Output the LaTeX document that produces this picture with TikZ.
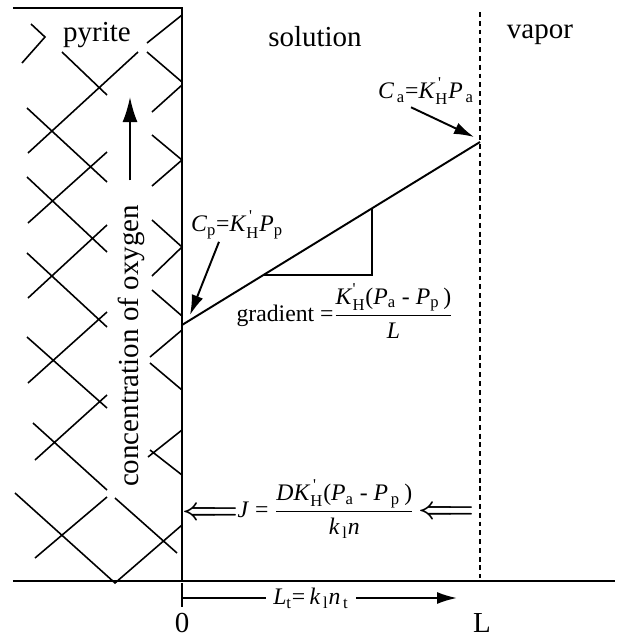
\documentclass[tikz,border=0pt]{standalone}
\usepackage{amsmath}
\usepackage[no-math]{fontspec}
\setmainfont{Liberation Serif}
\usetikzlibrary{arrows.meta,calc}

\newcommand{\ivar}[1]{\text{\textit{#1}}}
\newcommand{\rsub}[1]{\text{\normalfont #1}}
\newcommand{\tick}{\text{\normalfont\textquotesingle}}
\newcommand{\eqsize}{\fontsize{13.5}{16}\selectfont}

\begin{document}
\begin{tikzpicture}[x=0.02cm, y=-0.02cm, line width=1.1pt,
    font=\fontsize{16.5}{20}\selectfont,
    formula/.style={font=\eqsize, inner sep=1pt},
    inflow/.style={inner sep=0pt, font=\fontsize{16.5}{20}\selectfont\boldmath},
    hatch/.style={line width=0.9pt},
    pointer/.style={-{Latex[length=0.4cm,width=0.24cm]}}]
    \useasboundingbox (0,0) rectangle (628,637);

    % pyrite block, base line and vapor boundary
    \draw (13,8) -- (182,8) -- (182,581);
    \draw (13,581) -- (615,581);
    \draw[dash pattern=on 2.8pt off 2.2pt, line width=1.4pt] (480,12) -- (480,578);

    % cross hatching of the pyrite
    \draw[hatch]
        (31,24) -- (45,37) -- (22,63)
        (147,43) -- (182,15)
        (62,52) -- (107,95)
        (28,153) -- (138,52)
        (147,52) -- (182,82)
        (182,85) -- (152,112)
        (27,108) -- (107,182)
        (152,135) -- (182,160) -- (152,186)
        (107,152) -- (28,223)
        (27,177) -- (107,252)
        (152,220) -- (182,247) -- (152,276)
        (107,225) -- (28,298)
        (27,253) -- (107,327)
        (152,290) -- (182,316)
        (107,312) -- (28,383)
        (182,330) -- (150,357)
        (27,337) -- (107,408)
        (150,363) -- (182,390)
        (107,395) -- (35,460)
        (33,423) -- (107,490)
        (182,430) -- (148,457)
        (150,450) -- (182,475)
        (107,497) -- (35,558)
        (15,493) -- (115,583) -- (182,525)
        (115,498) -- (177,553);

    \node (pyrite) at (97,35) {pyrite};
    \node (solution) at (315,37) {solution};
    \node (vapor) at (540,35) {vapor};

    % concentration profile
    \coordinate (pp) at (182,325);
    \coordinate (pa) at (480,142);
    \draw (pp) -- (pa) coordinate[pos=0.272] (slopeB) coordinate[pos=0.6376] (slopeA);
    \draw (slopeA) |- (slopeB);

    \node (ca) at (426,91) [formula] {$\ivar{C}_{\,\rsub{a}}\text{=}\ivar{K}^{\,\tick}_{\rsub{H}}\ivar{P}_{\,\rsub{a}}$};
    \coordinate (catip) at (474,137);
    \draw[pointer] ([xshift=-0.3cm]ca.south) -- (catip);

    \node (cp) at (237,225) [formula] {$\ivar{C}_{\rsub{p}}\text{=}\ivar{K}^{\,\tick}_{\rsub{H}}\ivar{P}_{\rsub{p}}$};
    \coordinate (cptip) at (190,315);
    \draw[pointer] ([xshift=-0.36cm]cp.south) -- (cptip);

    \node (grad) at (345,311) [formula] {gradient $\text{=}\dfrac{\ivar{K}^{\tick}_{\rsub{H}}\text{(}\ivar{P}_{\rsub{a}}\text{ - }\ivar{P}_{\rsub{p}}\text{\,)}}{\ivar{L}}$};

    % oxygen axis
    \node (conc) at (131,346) [rotate=90] {concentration of oxygen};
    \coordinate (otip) at (130,97);
    \draw[-{Latex[length=0.5cm,width=0.3cm]}] ($(conc.east)+(-1,-18)$) -- (otip);

    % flux
    \node (inleft) at (210,514) [inflow] {$\Longleftarrow$};
    \node (jflux) at (326,509) [formula] {$\ivar{J}\text{ = }\dfrac{\ivar{DK}^{\,\tick}_{\rsub{H}}\text{(}\ivar{P}_{\rsub{a}}\text{ - }\ivar{P}_{\,\rsub{p}}\,\text{)}}{\ivar{k}_{\,\rsub{l}}\ivar{n}}$};
    \node (inright) at (446,513) [inflow] {$\Longleftarrow$};

    % thickness axis
    \coordinate (orig) at (182,583);
    \coordinate (origlow) at (182,607);
    \draw (orig) -- (origlow);
    \node (lt) at (311,598) [formula] {$\ivar{L}_{\rsub{t}}\text{=}\,\ivar{k}_{\,\rsub{l}}\ivar{n}_{\,\rsub{t}}$};
    \coordinate (ltstart) at (182,598);
    \coordinate (ltip) at (457,598);
    \draw (ltstart) -- ([xshift=-0.1cm]lt.west);
    \draw[pointer] ([xshift=0.1cm]lt.east) -- (ltip);
    \node (zero) at (182,623) [inner sep=0pt] {0};
    \node (ell) at (482,623) [inner sep=0pt] {L};
\end{tikzpicture}
\end{document}
